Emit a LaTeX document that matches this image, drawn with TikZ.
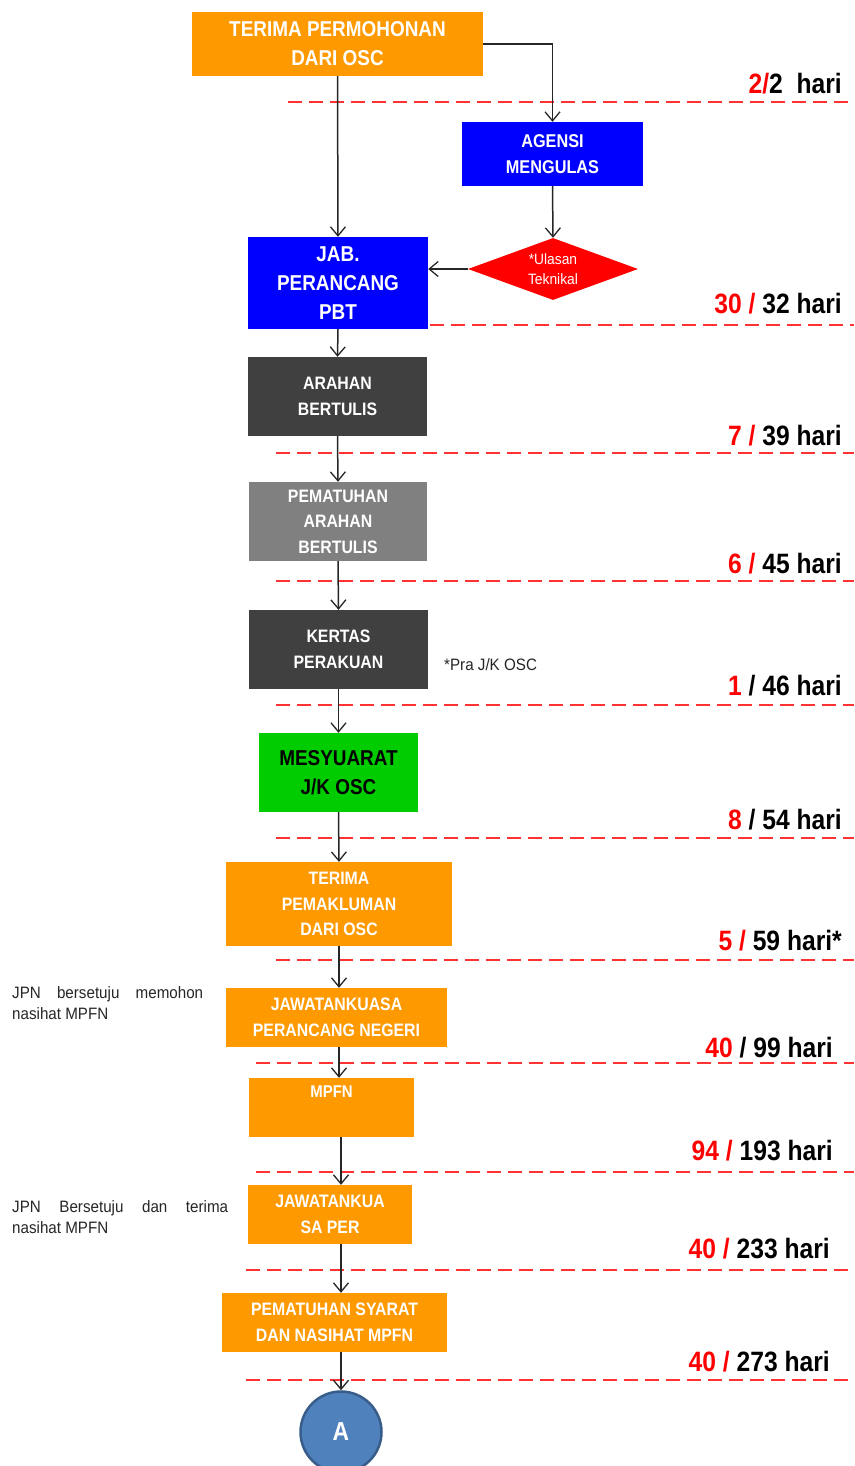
\documentclass[tikz,border=0pt]{standalone}
\usepackage{fontspec}
\setmainfont{Liberation Sans}
\newfontfamily\nb[FakeStretch=0.88]{Liberation Sans}
\newfontfamily\nr[FakeStretch=0.92]{Liberation Sans}
\usetikzlibrary{arrows.meta,shapes.geometric}
\definecolor{org}{HTML}{FF9900}
\definecolor{blu}{HTML}{0000FF}
\definecolor{dgr}{HTML}{404040}
\definecolor{mgr}{HTML}{808080}
\definecolor{grn}{HTML}{00CC00}
\definecolor{rdd}{HTML}{FF0000}
\definecolor{dred}{HTML}{FF3333}
\definecolor{cfill}{HTML}{4F81BD}
\definecolor{cline}{HTML}{385D8A}
\begin{document}
\begin{tikzpicture}[x=1bp,y=-1bp,
  box/.style={rectangle,inner sep=0pt,align=center,text=white,
    font=\nb\bfseries\fontsize{18bp}{25.5bp}\selectfont},
  bigtxt/.style={font=\nb\bfseries\fontsize{21.5bp}{29bp}\selectfont},
  arr/.style={draw=black!85,line width=1.5bp,
    -{Straight Barb[length=9bp,width=15bp,line width=1.3bp]}},
  dl/.style={draw=dred,line width=1.4bp,dash pattern=on 14bp off 7bp},
  tl/.style={anchor=base east,inner sep=0pt,
    font=\nb\bfseries\fontsize{28bp}{30bp}\selectfont},
  side/.style={anchor=base west,inner sep=0pt,align=left,text=black!85,
    font=\nr\fontsize{16.5bp}{21bp}\selectfont}]
\useasboundingbox (0,0) rectangle (854,1466);

% dashed day separators
\foreach \xa/\ya in {288/102,430/325,276/453,276/581,276/705,276/838,276/960,256/1063,256/1172,246/1270,246/1380}
  \draw[dl] (\xa,\ya) -- (854,\ya);

% boxes
\node[box,bigtxt,fill=org,minimum width=291bp,minimum height=64bp] (b1) at (337.5,44)
  {TERIMA PERMOHONAN\\DARI OSC};
\node[box,fill=blu,minimum width=181bp,minimum height=64bp,
  font=\nb\bfseries\fontsize{18.5bp}{26bp}\selectfont] (ag) at (552.5,154)
  {AGENSI\\MENGULAS};
\node[diamond,aspect=2.75,fill=rdd,inner sep=0pt,minimum width=170bp,minimum height=62bp,
  text=white,align=center,font=\nr\fontsize{15bp}{20bp}\selectfont] (dia) at (553,269)
  {*Ulasan\\Teknikal};
\node[box,bigtxt,fill=blu,minimum width=180bp,minimum height=92bp] (jab) at (338,283)
  {JAB.\\PERANCANG\\PBT};
\node[box,fill=dgr,minimum width=179bp,minimum height=79bp] (ar) at (337.5,396.5)
  {ARAHAN\\BERTULIS};
\node[box,fill=mgr,minimum width=178bp,minimum height=79bp] (pm) at (338,521.5)
  {PEMATUHAN\\ARAHAN\\BERTULIS};
\node[box,fill=dgr,minimum width=179bp,minimum height=79bp] (kp) at (338.5,649.5)
  {KERTAS\\PERAKUAN};
\node[box,bigtxt,fill=grn,text=black,minimum width=159bp,minimum height=79bp] (me) at (338.5,772.5)
  {MESYUARAT\\J/K OSC};
\node[box,fill=org,minimum width=226bp,minimum height=84bp] (tp) at (339,904)
  {TERIMA\\PEMAKLUMAN\\DARI OSC};
\node[box,fill=org,minimum width=221bp,minimum height=59bp] (jpn) at (336.5,1017.5)
  {JAWATANKUASA\\PERANCANG NEGERI};
\node[box,fill=org,minimum width=165bp,minimum height=59bp,
  label={[anchor=north,yshift=-8bp,text=white,inner sep=0pt,
    font=\nb\bfseries\fontsize{17bp}{20bp}\selectfont]north:MPFN}] (mp) at (331.5,1107.5) {};
\node[box,fill=org,minimum width=164bp,minimum height=59bp] (jk) at (330,1214.5)
  {JAWATANKUA\\SA PER};
\node[box,fill=org,minimum width=225bp,minimum height=59bp] (ps) at (334.5,1322.5)
  {PEMATUHAN SYARAT\\DAN NASIHAT MPFN};
\node[circle,fill=cfill,draw=cline,line width=2.5bp,minimum size=81bp,inner sep=0pt,
  text=white,font=\nb\bfseries\fontsize{26bp}{28bp}\selectfont] (A) at (341,1432) {A};

% connectors
\draw[arr] (b1.east) -| (ag.north);
\draw[arr] (b1.south) -- (jab.north);
\draw[arr] (ag.south) -- (dia.north);
\draw[arr] (dia.west) -- (dia.west -| jab.east);
\draw[arr] (jab.south) -- (ar.north);
\draw[arr] (ar.south) -- (pm.north);
\draw[arr] (pm.south) -- (kp.north);
\draw[arr] (kp.south) -- (me.north);
\draw[arr] (me.south) -- (tp.north);
\draw[arr] (tp.south) -- (tp.south |- jpn.north);
\draw[arr] (jpn.south -| tp.south) -- (mp.north -| tp.south);
\draw[arr] (mp.south -| A.north) -- (jk.north -| A.north);
\draw[arr] (jk.south -| A.north) -- (ps.north -| A.north);
\draw[arr] (ps.south -| A.north) -- (A.north);

% day labels
\node[tl] (t1) at (842,94) {\textcolor{rdd}{2/}2\ \ hari};
\node[tl] (t2) at (842,313) {\textcolor{rdd}{30 /} 32 hari};
\node[tl] (t3) at (842,445) {\textcolor{rdd}{7 /} 39 hari};
\node[tl] (t4) at (842,573) {\textcolor{rdd}{6 /} 45 hari};
\node[tl] (t5) at (842,695) {\textcolor{rdd}{1} / 46 hari};
\node[tl] (t6) at (842,829) {\textcolor{rdd}{8} / 54 hari};
\node[tl] (t7) at (842,950) {\textcolor{rdd}{5 /} 59 hari*};
\node[tl] (t8) at (833,1057) {\textcolor{rdd}{40} / 99 hari};
\node[tl] (t9) at (833,1160) {\textcolor{rdd}{94 /} 193 hari};
\node[tl] (t10) at (830,1258) {\textcolor{rdd}{40 /} 233 hari};
\node[tl] (t11) at (830,1371) {\textcolor{rdd}{40 /} 273 hari};

% side notes
\node[side] (n1) at (444,670) {*Pra J/K OSC};
\node[side] (n2) at (12,1019) {\makebox[191bp][s]{JPN bersetuju memohon}\\nasihat MPFN};
\node[side] (n3) at (12,1233) {\makebox[216bp][s]{JPN Bersetuju dan terima}\\nasihat MPFN};
\end{tikzpicture}
\end{document}
